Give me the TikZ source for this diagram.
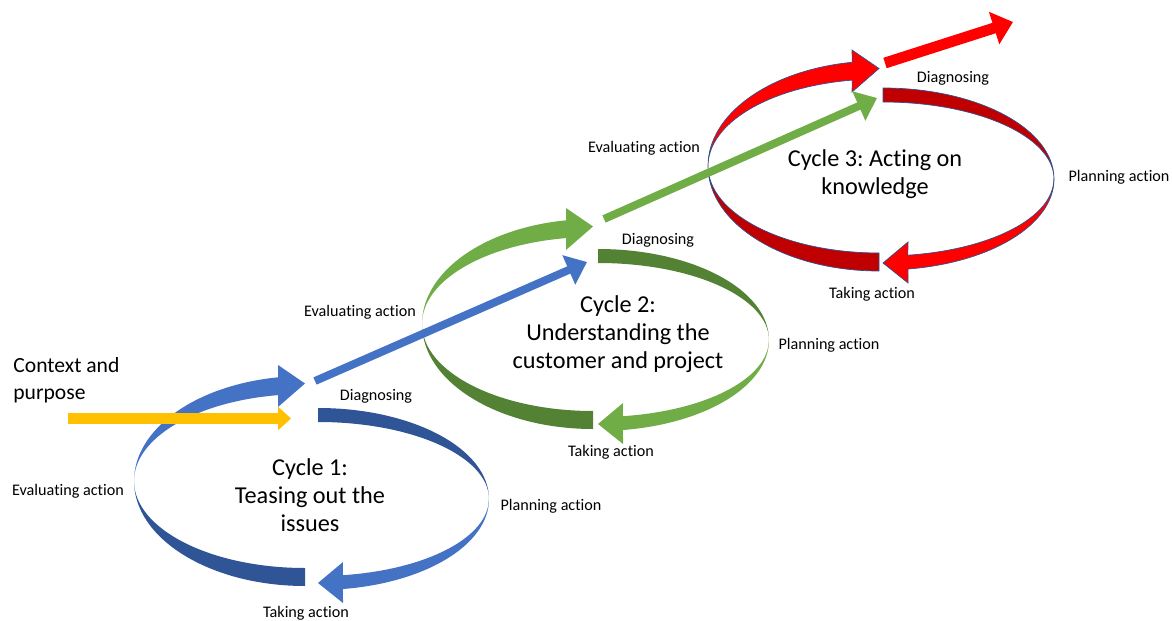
\documentclass[tikz,border=0pt]{standalone}
\usepackage{fontspec}
\setmainfont{Carlito}[Ligatures=NoCommon]
\usepackage{xcolor}
\usepackage{tikz}
\usetikzlibrary{arrows.meta}
\frenchspacing
\definecolor{c1lite}{HTML}{4472C4}
\definecolor{c1dark}{HTML}{2F5597}
\definecolor{c2lite}{HTML}{70AD47}
\definecolor{c2dark}{HTML}{548235}
\definecolor{c3lite}{HTML}{FF0000}
\definecolor{c3dark}{HTML}{C00000}
\definecolor{ctxgold}{HTML}{FFC000}
\definecolor{rimblue}{HTML}{2F528F}
\tikzset{lbl/.style={inner sep=0pt,font=\fontsize{9.2}{11}\selectfont},
         ttl/.style={align=center,inner sep=0pt,font=\fontsize{13.8}{16}\selectfont},
         bar/.style={line width=4.5pt,-{Triangle[length=11.3pt,width=17.6pt]}}}

\begin{document}
\begin{tikzpicture}[x=0.02cm,y=-0.02cm]
  \useasboundingbox (0,0) rectangle (1172,621);

	\def\R{171};

       % one loop per cycle: left half runs up to the top, right half down to the bottom
       \foreach \i/\lx/\ly/\rx/\ry/\lite/\dark/\edge in {1/305/481/318/499/c1lite/c1dark/none, 2/593/324/598/340/c2lite/c2dark/none, 3/879/166/883/179/c3lite/c3dark/rimblue} {
         	\path[fill=\dark,draw=\edge,line width=0.4pt] (\lx,\ly+105) arc[start angle=90,end angle=180,x radius=\R,y radius=105]
         	   arc[start angle=180,end angle=90,x radius=\R,y radius=87] -- cycle;
         	\path[fill=\lite,draw=\edge,line width=0.4pt] (\lx-\R,\ly) arc[start angle=180,end angle=261,x radius=\R,y radius=105]
         	   -- (\lx-27,\ly-116) -- (\lx,\ly-97.5) -- (\lx-27,\ly-74) -- (\lx-26.75,\ly-85.9)
         	   arc[start angle=261,end angle=180,x radius=\R,y radius=87] -- cycle;
         	\path[fill=\dark,draw=\edge,line width=0.4pt] (\rx,\ry-91) arc[start angle=270,end angle=360,x radius=\R,y radius=91]
         	   arc[start angle=0,end angle=-90,x radius=\R,y radius=77] -- cycle;
         	\path[fill=\lite,draw=\edge,line width=0.4pt] (\rx+\R,\ry) arc[start angle=0,end angle=81.6,x radius=\R,y radius=91]
         	   -- (\rx+25,\ry+104) -- (\rx,\ry+84) -- (\rx+25,\ry+63) -- (\rx+24.8,\ry+76.2)
         	   arc[start angle=81.6,end angle=0,x radius=\R,y radius=77] -- cycle;
   	 }

  \coordinate (ctx-s) at (68,418.5);
  \coordinate (ctx-e) at (291,418.5);
  \coordinate (out1) at (315,381);
  \coordinate (in2) at (587,262);
  \coordinate (out2) at (604,219);
  \coordinate (in3) at (877,98);
  \coordinate (out3) at (885,63);
  \coordinate (end3) at (1013,22);

  \draw[bar,color=ctxgold,line width=6.2pt,-{Triangle[length=7.4pt,width=13pt]}] (ctx-s) -- (ctx-e);
  \draw[bar,color=c1lite] (out1) -- (in2);
  \draw[bar,color=c2lite] (out2) -- (in3);
  \draw[bar,color=c3lite,line width=6.2pt,-{Triangle[length=11.3pt,width=18.7pt]}] (out3) -- (end3);

  \node[anchor=west,align=left,inner sep=0pt,font=\fontsize{12.3}{15.3}\selectfont] (ctx) at (13,380.5) {Context and\\purpose};

  \node[ttl] (cyc1) at (310,495) {Cycle 1:\\Teasing out the\\issues};
  \node[ttl] (cyc2) at (618,334) {Cycle 2:\\Understanding the\\customer and project};
  \node[ttl] (cyc3) at (875,174) {Cycle 3: Acting on\\knowledge};

  \node[lbl] (diag1) at (376,396) {Diagnosing};
  \node[lbl] (eval1) at (68,491) {Evaluating action};
  \node[lbl] (plan1) at (551,506) {Planning action};
  \node[lbl] (take1) at (306,613) {Taking action};

  \node[lbl] (diag2) at (658,240) {Diagnosing};
  \node[lbl] (eval2) at (360,312) {Evaluating action};
  \node[lbl] (plan2) at (829,345) {Planning action};
  \node[lbl] (take2) at (611,452) {Taking action};

  \node[lbl] (diag3) at (953,78) {Diagnosing};
  \node[lbl] (eval3) at (644,148) {Evaluating action};
  \node[lbl] (plan3) at (1119,177) {Planning action};
  \node[lbl] (take3) at (872,294) {Taking action};

\end{tikzpicture}
\end{document}
